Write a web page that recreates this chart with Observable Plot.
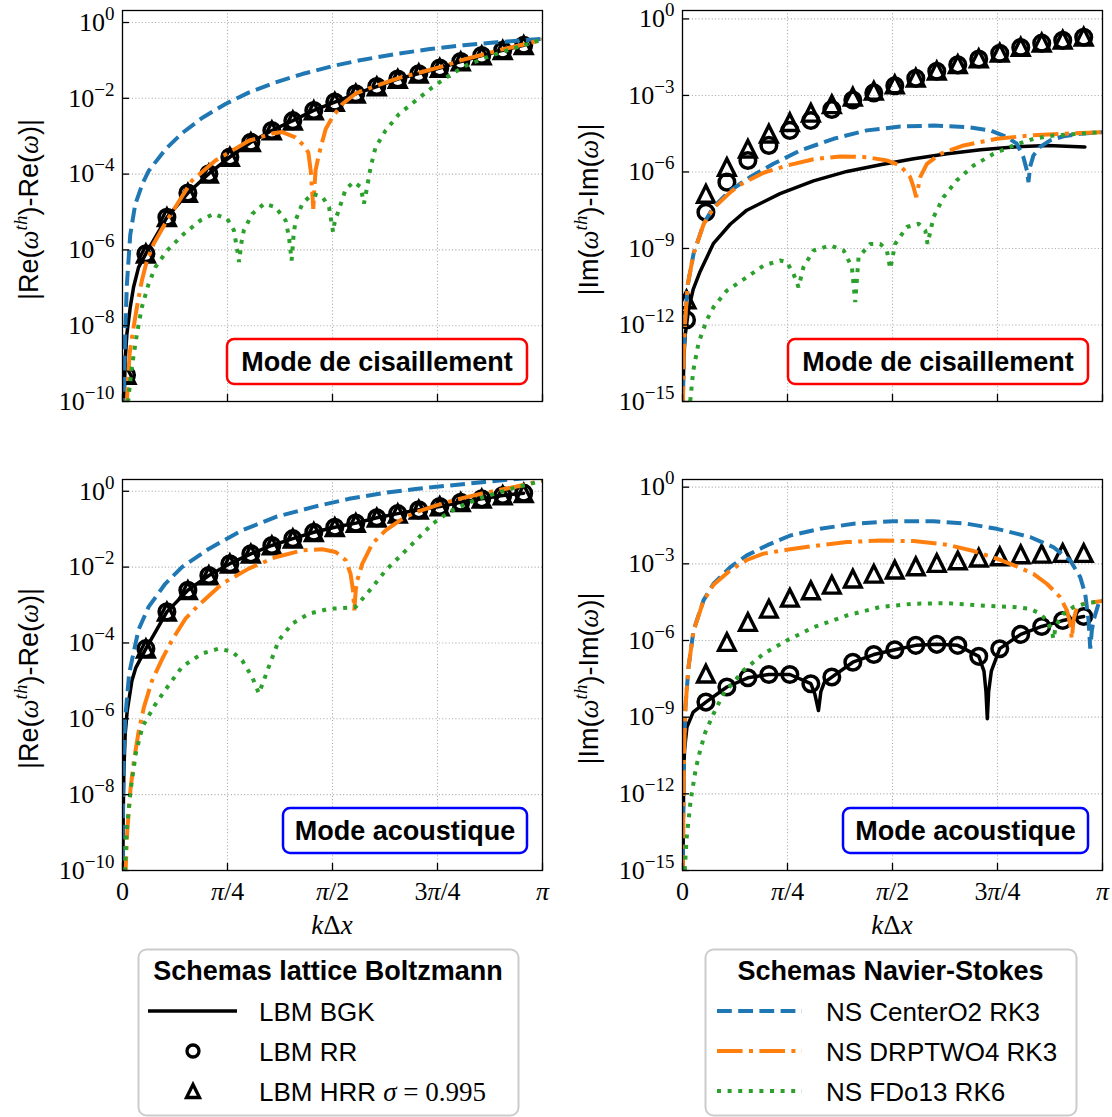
<!DOCTYPE html>
<html><head><meta charset="utf-8">
<script src="https://cdn.jsdelivr.net/npm/d3@7"></script>
<script src="https://cdn.jsdelivr.net/npm/@observablehq/plot@0.6"></script>
<style>
body{margin:0;background:#fff;}
#wrap{position:relative;width:1112px;height:1117px;overflow:hidden;background:#fff;}
</style></head><body><div id="wrap"></div>
<script>
// ---------- DATA (values are log10 of the error) ----------
const xTicks = [0, Math.PI / 4, Math.PI / 2, 3 * Math.PI / 4, Math.PI];
const xTickLabels = ["0", "π/4", "π/2", "3π/4", "π"];
const leftYTickExps = [-10, -8, -6, -4, -2, 0];
const rightYTickExps = [-15, -12, -9, -6, -3, 0];
const markerK = [0.03, 0.175, 0.332, 0.489, 0.646, 0.803, 0.96, 1.117, 1.274, 1.431, 1.588, 1.745, 1.902, 2.059, 2.216, 2.373, 2.53, 2.687, 2.844, 3.001];

// top-left: Re, shear mode  ([k, log10 value])
const tlBgk = [[0.008,-10.3],[0.0125,-9.97],[0.02,-8.92],[0.033,-8.21],[0.058,-7.51],[0.083,-6.98],[0.12,-6.46],[0.175,-6.1],[0.332,-5.14],[0.489,-4.5],[0.646,-3.99],[0.803,-3.55],[0.96,-3.16],[1.117,-2.85],[1.274,-2.59],[1.431,-2.32],[1.588,-2.1],[1.745,-1.88],[1.902,-1.69],[2.059,-1.49],[2.216,-1.35],[2.373,-1.2],[2.53,-1.03],[2.687,-0.87],[2.844,-0.73],[3.001,-0.6]];
const tlRR = [-9.3,-6.1,-5.14,-4.5,-3.99,-3.55,-3.16,-2.85,-2.59,-2.32,-2.1,-1.88,-1.69,-1.49,-1.35,-1.2,-1.03,-0.87,-0.73,-0.6];
const tlHRR = [-9.3,-6.1,-5.14,-4.5,-3.99,-3.55,-3.16,-2.85,-2.59,-2.32,-2.1,-1.88,-1.69,-1.49,-1.35,-1.2,-1.03,-0.87,-0.73,-0.6];
const tlCenter = [[0.008,-10.3],[0.0125,-9.5],[0.02,-8.2],[0.033,-6.9],[0.058,-5.6],[0.095,-4.8],[0.15,-4.25],[0.195,-3.92],[0.32,-3.35],[0.445,-2.92],[0.595,-2.52],[0.77,-2.15],[0.944,-1.85],[1.144,-1.58],[1.344,-1.36],[1.57,-1.15],[1.8,-0.98],[2.05,-0.83],[2.3,-0.7],[2.55,-0.6],[2.8,-0.52],[3.1416,-0.43]];
const tlDrp = [[0.025,-10.3],[0.033,-9.97],[0.053,-8.74],[0.083,-8.04],[0.108,-7.51],[0.145,-6.81],[0.183,-6.28],[0.233,-5.84],[0.333,-5.22],[0.52,-4.17],[0.695,-3.64],[0.945,-3.12],[1.12,-2.93],[1.194,-2.89],[1.294,-3.03],[1.357,-3.25],[1.39,-3.43],[1.408,-3.91],[1.42,-4.52],[1.427,-4.92],[1.435,-4.4],[1.444,-3.9],[1.47,-3.47],[1.52,-2.81],[1.57,-2.5],[1.644,-2.15],[1.75,-1.86],[1.906,-1.66],[2.07,-1.46],[2.226,-1.32],[2.38,-1.17],[2.53,-1.0],[2.69,-0.85],[2.84,-0.71],[3.0,-0.58],[3.1416,-0.45]];
const tlFd = [[0.035,-10.3],[0.045,-9.89],[0.07,-9.09],[0.108,-8.21],[0.145,-7.51],[0.195,-6.9],[0.245,-6.46],[0.333,-6.02],[0.458,-5.58],[0.583,-5.22],[0.683,-5.05],[0.783,-5.18],[0.833,-5.48],[0.858,-6.0],[0.872,-6.32],[0.89,-5.8],[0.907,-5.49],[0.97,-5.05],[1.06,-4.78],[1.144,-4.87],[1.22,-5.22],[1.245,-5.66],[1.265,-6.28],[1.28,-5.6],[1.295,-5.22],[1.345,-4.78],[1.42,-4.52],[1.495,-4.6],[1.545,-4.87],[1.575,-5.53],[1.59,-5.2],[1.608,-5.05],[1.67,-4.39],[1.731,-4.21],[1.781,-4.34],[1.806,-4.78],[1.83,-4.34],[1.856,-3.82],[1.893,-3.29],[1.968,-2.85],[2.07,-2.41],[2.193,-2.06],[2.318,-1.71],[2.443,-1.4],[2.568,-1.14],[2.75,-0.88],[3.0,-0.6],[3.1416,-0.45]];

// top-right: Im, shear mode
const trBgk = [[0.003,-15.4],[0.006,-14.3],[0.01,-13.3],[0.02,-12.4],[0.045,-11.4],[0.08,-10.6],[0.132,-9.9],[0.232,-8.8],[0.357,-8.05],[0.481,-7.5],[0.73,-6.85],[0.98,-6.35],[1.23,-5.98],[1.48,-5.72],[1.73,-5.48],[1.98,-5.29],[2.23,-5.13],[2.48,-5.02],[2.73,-4.96],[3.01,-5.02]];
const trRR = [-11.8,-7.58,-6.4,-5.55,-4.96,-4.37,-3.98,-3.55,-3.18,-2.9,-2.62,-2.33,-2.05,-1.8,-1.57,-1.35,-1.12,-0.95,-0.84,-0.72];
const trHRR = [-11.0,-6.86,-5.81,-5.09,-4.5,-4.05,-3.68,-3.35,-3.05,-2.82,-2.57,-2.31,-2.03,-1.78,-1.55,-1.33,-1.1,-0.93,-0.82,-0.7];
const trCenter = [[0.003,-15.4],[0.006,-14.0],[0.01,-13.0],[0.02,-11.8],[0.04,-10.4],[0.0825,-9.21],[0.158,-8.03],[0.232,-7.38],[0.357,-6.73],[0.506,-6.2],[0.68,-5.68],[0.88,-5.16],[1.13,-4.7],[1.379,-4.37],[1.628,-4.22],[1.877,-4.18],[2.127,-4.24],[2.301,-4.37],[2.427,-4.63],[2.5,-4.89],[2.55,-5.42],[2.576,-5.94],[2.588,-6.4],[2.6,-5.8],[2.625,-5.35],[2.675,-5.02],[2.75,-4.76],[2.85,-4.6],[2.975,-4.5],[3.1416,-4.44]];
const trDrp = [[0.003,-15.4],[0.006,-14.0],[0.01,-13.0],[0.02,-11.8],[0.04,-10.4],[0.0825,-9.21],[0.158,-8.05],[0.232,-7.42],[0.357,-6.8],[0.432,-6.5],[0.606,-6.03],[0.78,-5.75],[0.98,-5.5],[1.179,-5.39],[1.379,-5.42],[1.528,-5.55],[1.628,-5.75],[1.703,-6.2],[1.728,-6.59],[1.748,-6.99],[1.765,-6.55],[1.778,-6.2],[1.828,-5.68],[1.928,-5.29],[2.103,-4.96],[2.352,-4.7],[2.6,-4.57],[2.85,-4.5],[3.1416,-4.44]];
const trFd = [[0.05,-15.4],[0.08,-13.8],[0.12,-12.7],[0.182,-11.8],[0.232,-11.3],[0.332,-10.65],[0.481,-10.13],[0.606,-9.67],[0.73,-9.47],[0.78,-9.53],[0.83,-9.99],[0.868,-10.52],[0.905,-9.73],[0.98,-9.08],[1.105,-8.88],[1.205,-9.08],[1.267,-9.73],[1.292,-11.1],[1.317,-9.34],[1.404,-8.82],[1.479,-8.82],[1.529,-9.08],[1.554,-9.8],[1.591,-8.82],[1.678,-8.16],[1.766,-8.03],[1.816,-8.29],[1.833,-8.82],[1.878,-7.77],[1.952,-6.99],[2.052,-6.33],[2.177,-5.75],[2.327,-5.29],[2.476,-4.96],[2.625,-4.7],[2.775,-4.57],[3.1416,-4.44]];

// bottom-left: Re, acoustic mode
const blBgk = [[0.002,-10.3],[0.005,-8.6],[0.01,-7.4],[0.02,-6.4],[0.035,-5.8],[0.07,-5.0],[0.1,-4.65],[0.175,-4.15],[0.332,-3.18],[0.489,-2.61],[0.646,-2.22],[0.803,-1.91],[0.96,-1.65],[1.117,-1.43],[1.274,-1.25],[1.431,-1.08],[1.588,-0.95],[1.745,-0.84],[1.902,-0.7],[2.059,-0.59],[2.216,-0.49],[2.373,-0.4],[2.53,-0.29],[2.687,-0.2],[2.844,-0.11],[3.001,-0.05]];
const blRR = [null,-4.15,-3.18,-2.61,-2.22,-1.91,-1.65,-1.43,-1.25,-1.08,-0.95,-0.84,-0.7,-0.59,-0.49,-0.4,-0.29,-0.2,-0.11,-0.05];
const blHRR = [null,-4.15,-3.18,-2.61,-2.22,-1.91,-1.65,-1.43,-1.25,-1.08,-0.95,-0.84,-0.7,-0.59,-0.49,-0.4,-0.29,-0.2,-0.11,-0.05];
const blCenter = [[0.001,-10.3],[0.002,-9.0],[0.005,-7.8],[0.01,-6.9],[0.02,-6.0],[0.05,-4.8],[0.12,-3.65],[0.195,-3.05],[0.32,-2.44],[0.445,-2.0],[0.645,-1.52],[0.895,-1.03],[1.144,-0.68],[1.444,-0.4],[1.694,-0.2],[1.944,-0.05],[2.193,0.06],[2.443,0.15],[2.69,0.24],[2.9,0.31],[3.1416,0.38]];
const blDrp = [[0.02,-10.3],[0.035,-9.0],[0.06,-7.85],[0.0856,-7.1],[0.12,-6.35],[0.16,-5.7],[0.22,-5.0],[0.3,-4.4],[0.37,-3.93],[0.473,-3.35],[0.57,-3.0],[0.745,-2.44],[0.944,-2.04],[1.144,-1.74],[1.344,-1.56],[1.494,-1.53],[1.594,-1.6],[1.67,-1.82],[1.706,-2.18],[1.724,-2.61],[1.734,-3.14],[1.745,-2.6],[1.756,-2.35],[1.794,-1.91],[1.869,-1.38],[1.968,-1.03],[2.093,-0.73],[2.193,-0.55],[2.343,-0.38],[2.493,-0.22],[2.69,-0.06],[2.94,0.12],[3.1416,0.28]];
const blFd = [[0.015,-10.3],[0.03,-9.0],[0.06,-7.9],[0.1,-6.9],[0.15,-6.2],[0.24,-5.65],[0.32,-5.24],[0.445,-4.63],[0.595,-4.28],[0.72,-4.15],[0.82,-4.23],[0.895,-4.46],[0.97,-4.9],[1.02,-5.33],[1.057,-4.99],[1.094,-4.63],[1.169,-3.93],[1.269,-3.49],[1.394,-3.23],[1.544,-3.1],[1.694,-3.07],[1.744,-3.05],[1.794,-2.84],[1.869,-2.53],[1.968,-2.09],[2.068,-1.74],[2.193,-1.3],[2.318,-0.86],[2.443,-0.55],[2.568,-0.33],[2.693,-0.16],[2.943,0.1],[3.1416,0.28]];

// bottom-right: Im, acoustic mode
const brBgk = [[0.003,-15.4],[0.006,-13.0],[0.01,-11.0],[0.015,-10.3],[0.033,-9.39],[0.08,-8.8],[0.175,-8.41],[0.332,-7.82],[0.489,-7.46],[0.646,-7.33],[0.803,-7.33],[0.96,-7.69],[0.99,-8.1],[1.017,-8.74],[1.035,-8.0],[1.06,-7.65],[1.117,-7.43],[1.274,-6.85],[1.431,-6.55],[1.588,-6.36],[1.745,-6.19],[1.902,-6.15],[2.059,-6.19],[2.216,-6.62],[2.255,-7.2],[2.27,-8.0],[2.28,-9.06],[2.29,-8.0],[2.31,-7.2],[2.373,-6.32],[2.53,-5.76],[2.687,-5.45],[2.844,-5.22],[3.001,-5.06]];
const brRR = [null,-8.41,-7.82,-7.46,-7.33,-7.33,-7.69,-7.43,-6.85,-6.55,-6.36,-6.19,-6.15,-6.19,-6.62,-6.32,-5.76,-5.45,-5.22,-5.06];
const brHRR = [null,-7.3,-6.06,-5.28,-4.76,-4.33,-4.04,-3.82,-3.58,-3.39,-3.23,-3.1,-2.97,-2.87,-2.76,-2.71,-2.63,-2.61,-2.58,-2.58];
const brCenter = [[0.002,-15.4],[0.006,-12.5],[0.012,-10.3],[0.022,-8.6],[0.045,-7.04],[0.0825,-5.61],[0.157,-4.43],[0.232,-3.78],[0.357,-3.13],[0.481,-2.67],[0.631,-2.28],[0.806,-1.89],[1.03,-1.63],[1.279,-1.43],[1.578,-1.33],[1.878,-1.33],[2.127,-1.43],[2.351,-1.63],[2.6,-1.95],[2.775,-2.35],[2.9,-2.87],[2.975,-3.52],[3.012,-4.17],[3.037,-5.2],[3.05,-6.32],[3.062,-5.6],[3.075,-5.2],[3.112,-4.56],[3.1416,-4.5]];
const brDrp = [[0.002,-15.4],[0.006,-12.5],[0.012,-10.3],[0.022,-8.6],[0.045,-7.04],[0.0825,-5.62],[0.157,-4.45],[0.232,-3.82],[0.357,-3.25],[0.481,-2.85],[0.606,-2.6],[0.78,-2.45],[0.98,-2.3],[1.23,-2.15],[1.479,-2.09],[1.728,-2.11],[1.977,-2.25],[2.177,-2.5],[2.351,-2.8],[2.5,-3.1],[2.625,-3.39],[2.725,-3.78],[2.825,-4.3],[2.875,-4.82],[2.9,-5.35],[2.912,-5.93],[2.925,-5.2],[2.95,-4.69],[3.0,-4.56],[3.1416,-4.45]];
const brFd = [[0.012,-15.4],[0.03,-13.8],[0.06,-12.3],[0.1,-11.0],[0.132,-10.3],[0.17,-9.6],[0.232,-8.87],[0.307,-8.08],[0.457,-7.17],[0.606,-6.52],[0.78,-6.0],[0.98,-5.48],[1.23,-5.02],[1.479,-4.69],[1.728,-4.56],[1.977,-4.54],[2.227,-4.63],[2.476,-4.69],[2.6,-4.76],[2.675,-4.95],[2.725,-5.22],[2.762,-5.6],[2.775,-5.95],[2.79,-5.5],[2.8,-5.35],[2.85,-4.95],[2.925,-4.69],[3.025,-4.54],[3.1416,-4.46]];

const seriesNames = ["LBM BGK", "LBM RR", "LBM HRR", "NS CenterO2 RK3", "NS DRPTWO4 RK3", "NS FDo13 RK6"];

// ---------- DRAWING ----------
const NS = "http://www.w3.org/2000/svg";
function el(tag, attrs, text) {
  const e = document.createElementNS(NS, tag);
  for (const k in attrs) e.setAttribute(k, attrs[k]);
  if (text != null) e.textContent = text;
  return e;
}
const SERIF = "'Liberation Serif', 'DejaVu Serif', serif";
const SANS = "'Liberation Sans', Arial, sans-serif";
const tri = { draw(ctx, size) { const s = Math.sqrt(size / Math.PI); ctx.moveTo(0, -s); ctx.lineTo(s, s); ctx.lineTo(-s, s); ctx.closePath(); } };
const ML = 122, MT = 10, FW = 420, FH = 391;
const wrap = document.getElementById("wrap");

const panels = [
  {left: 0, top: 0, bottom: false, right: false, yMin: -10, yMax: 0.317, yTicks: leftYTickExps, part: "Re", bgk: tlBgk, rr: tlRR, hrr: tlHRR, center: tlCenter, drp: tlDrp, fd: tlFd},
  {left: 560, top: 0, bottom: false, right: true, yMin: -15, yMax: 0.33, yTicks: rightYTickExps, part: "Im", bgk: trBgk, rr: trRR, hrr: trHRR, center: trCenter, drp: trDrp, fd: trFd},
  {left: 0, top: 469, bottom: true, right: false, yMin: -10, yMax: 0.31, yTicks: leftYTickExps, part: "Re", bgk: blBgk, rr: blRR, hrr: blHRR, center: blCenter, drp: blDrp, fd: blFd},
  {left: 560, top: 469, bottom: true, right: true, yMin: -15, yMax: 0.3, yTicks: rightYTickExps, part: "Im", bgk: brBgk, rr: brRR, hrr: brHRR, center: brCenter, drp: brDrp, fd: brFd}
];

function makePanel(p) {
  const width = p.right ? 552 : 560;
  const mb = p.bottom ? 76 : 8;
  const height = MT + FH + mb;
  const yT = p.yTicks.map(e => 10 ** e);
  const pts = a => a.map(([k, e]) => ({k, v: 10 ** e}));
  const mk = vals => vals.map((e, i) => e == null ? null : {k: markerK[i], v: 10 ** e}).filter(Boolean);
  const lo = {x: "k", y: "v", clip: true, strokeWidth: 4, strokeLinecap: "butt", strokeLinejoin: "miter"};
  const grid = {stroke: "#b0b0b0", strokeOpacity: 1, strokeWidth: 1.1, strokeDasharray: "1.1,2.2"};
  const marks = [
    Plot.gridX(xTicks, grid),
    Plot.gridY(yT, grid),
    Plot.line(pts(p.bgk), {...lo, stroke: "black", strokeWidth: 3.5, strokeLinecap: "round", strokeLinejoin: "round"}),
    Plot.dot(mk(p.rr), {x: "k", y: "v", r: 7.8, symbol: "circle", stroke: "black", strokeWidth: 3.5, fill: "none", clip: true}),
    Plot.dot(mk(p.hrr), {x: "k", y: "v", r: 8.3, symbol: tri, stroke: "black", strokeWidth: 3.4, fill: "none", strokeLinejoin: "miter", clip: true}),
    Plot.line(pts(p.center), {...lo, stroke: "#1f77b4", strokeDasharray: "14.8,6.4"}),
    Plot.line(pts(p.drp), {...lo, stroke: "#ff7f0e", strokeDasharray: "25.6,6.4,4,6.4"}),
    Plot.line(pts(p.fd), {...lo, stroke: "#2ca02c", strokeDasharray: "4,6.6"}),
    Plot.frame({stroke: "black", strokeWidth: 1.3}),
    Plot.tickY(yT, {y: d => d, stroke: "black", strokeWidth: 1.3, insetRight: FW - 7}),
    Plot.tickX(xTicks, {x: d => d, stroke: "black", strokeWidth: 1.3, insetTop: FH - 7}),
    Plot.axisY(yT, {anchor: "left", tickSize: 0, tickPadding: 8, label: null, fontSize: 26, fontFamily: SERIF,
      tickFormat: d => String(Math.round(Math.log10(d)))})
  ];
  if (p.bottom) marks.push(Plot.axisX(xTicks, {anchor: "bottom", tickSize: 0, tickPadding: 11, label: null, fontSize: 26, fontFamily: SERIF,
      tickFormat: d => xTickLabels[xTicks.indexOf(d)]}));
  const svg = Plot.plot({
    width, height, marginLeft: ML, marginRight: width - ML - FW, marginTop: MT, marginBottom: mb,
    x: p.bottom ? {domain: [0, Math.PI]} : {domain: [0, Math.PI], axis: null},
    y: {type: "log", domain: [10 ** p.yMin, 10 ** p.yMax]},
    style: {fontFamily: SERIF, fontSize: "26px", color: "black", background: "transparent", overflow: "visible"},
    marks
  });
  // y tick labels as 10^n
  svg.querySelectorAll('[aria-label="y-axis tick label"] text').forEach(t => {
    const e = t.textContent;
    t.textContent = "";
    t.append(el("tspan", {}, "10"));
    t.append(el("tspan", {dy: -11, "font-size": 19}, e.replace("-", "−")));
  });
  svg.querySelectorAll('[aria-label="x-axis tick label"] text').forEach(t => {
    const s = t.textContent;
    t.textContent = "";
    const parts = s.split("π");
    parts.forEach((q, i) => {
      if (q) t.append(el("tspan", {}, q));
      if (i < parts.length - 1) t.append(el("tspan", {"font-style": "italic"}, "π"));
    });
  });
  // y axis label
  const cy = MT + FH / 2 + 4;
  const lab = el("text", {transform: `translate(38,${cy}) rotate(-90)`, "text-anchor": "middle", "font-size": 27, "font-family": SANS, fill: "black"});
  const it = {"font-family": SERIF, "font-style": "italic"};
  lab.append(el("tspan", {}, `|${p.part}(`));
  lab.append(el("tspan", it, "ω"));
  lab.append(el("tspan", {...it, "font-size": 19, dy: -11}, "th"));
  lab.append(el("tspan", {dy: 11}, `)-${p.part}(`));
  lab.append(el("tspan", it, "ω"));
  lab.append(el("tspan", {}, ")|"));
  svg.append(lab);
  if (p.bottom) {
    const xl = el("text", {x: ML + FW / 2, y: 934 - p.top, "text-anchor": "middle", "font-size": 27, "font-family": SERIF, fill: "black"});
    xl.append(el("tspan", {"font-style": "italic"}, "k"));
    xl.append(el("tspan", {}, "Δ"));
    xl.append(el("tspan", {"font-style": "italic"}, "x"));
    svg.append(xl);
  }
  svg.style.position = "absolute";
  svg.style.left = p.left + "px";
  svg.style.top = p.top + "px";
  wrap.append(svg);
}
panels.forEach(makePanel);

// ---------- overlay: mode labels and legends ----------
const ov = el("svg", {width: 1112, height: 1117, viewBox: "0 0 1112 1117"});
ov.style.position = "absolute"; ov.style.left = "0px"; ov.style.top = "0px"; ov.style.pointerEvents = "none";
wrap.append(ov);
function note(x, y, w, h, color, txt) {
  ov.append(el("rect", {x, y, width: w, height: h, rx: 7, fill: "white", stroke: color, "stroke-width": 2.5}));
  ov.append(el("text", {x: x + w / 2, y: y + h / 2 + 9.5, "text-anchor": "middle", "font-family": SANS, "font-weight": "bold", "font-size": 27, fill: "black"}, txt));
}
note(227, 339, 300, 45, "#ff0000", "Mode de cisaillement");
note(788, 339, 300, 45, "#ff0000", "Mode de cisaillement");
note(283, 808, 244, 45, "#0000ff", "Mode acoustique");
note(843, 808, 245, 45, "#0000ff", "Mode acoustique");

function legendBox(x, w, title) {
  ov.append(el("rect", {x: x + 0.5, y: 949.5, width: w, height: 166, rx: 8, fill: "white", stroke: "#cccccc", "stroke-width": 2}));
  ov.append(el("text", {x: x + w / 2, y: 980, "text-anchor": "middle", "font-family": SANS, "font-weight": "bold", "font-size": 27, fill: "black"}, title));
}
legendBox(138, 380, "Schemas lattice Boltzmann");
legendBox(705, 371, "Schemas Navier-Stokes");
const rowsY = [1011, 1051, 1091];
// LBM legend
ov.append(el("line", {x1: 148, x2: 237, y1: rowsY[0], y2: rowsY[0], stroke: "black", "stroke-width": 3.5}));
ov.append(el("circle", {cx: 193, cy: rowsY[1], r: 6, fill: "none", stroke: "black", "stroke-width": 3.3}));
ov.append(el("path", {d: `M193,${rowsY[2] - 6.5}L199.5,${rowsY[2] + 6.5}L186.5,${rowsY[2] + 6.5}Z`, fill: "none", stroke: "black", "stroke-width": 3.3, "stroke-linejoin": "miter"}));
[seriesNames[0], seriesNames[1]].forEach((s, i) => ov.append(el("text", {x: 259, y: rowsY[i] + 10, "font-family": SANS, "font-size": 26, fill: "black"}, s)));
const hrr = el("text", {x: 259, y: rowsY[2] + 10, "font-family": SANS, "font-size": 26, fill: "black"});
hrr.append(el("tspan", {}, seriesNames[2] + " "));
hrr.append(el("tspan", {"font-family": SERIF, "font-style": "italic", "font-size": 27}, "σ"));
hrr.append(el("tspan", {"font-family": SERIF, "font-size": 27}, " = 0.995"));
ov.append(hrr);
// NS legend
const nsStyles = [["#1f77b4", "14.8,6.4"], ["#ff7f0e", "25.6,6.4,4,6.4"], ["#2ca02c", "4,6.6"]];
nsStyles.forEach(([c, d], i) => {
  ov.append(el("line", {x1: 717, x2: 802, y1: rowsY[i], y2: rowsY[i], stroke: c, "stroke-width": 4, "stroke-dasharray": d}));
  ov.append(el("text", {x: 826, y: rowsY[i] + 10, "font-family": SANS, "font-size": 26, fill: "black"}, seriesNames[3 + i]));
});
</script></body></html>
